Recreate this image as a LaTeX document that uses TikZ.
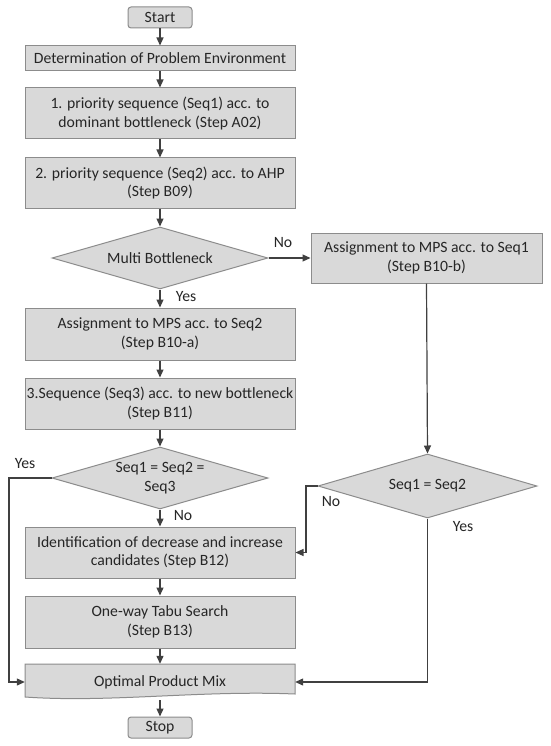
\documentclass[tikz,border=0pt]{standalone}
\usepackage{fontspec}
\setmainfont{Carlito}
\usetikzlibrary{shapes.geometric,arrows.meta,calc}
\definecolor{boxfill}{HTML}{D9D9D9}
\definecolor{boxline}{HTML}{8C8C8C}
\definecolor{linecol}{HTML}{404040}
\definecolor{txt}{HTML}{262626}
\begin{document}
\begin{tikzpicture}[x=1pt,y=-1pt,
  font=\fontsize{15.7}{18.5}\selectfont, text=txt,
  box/.style={draw=boxline, fill=boxfill, line width=1pt, minimum width=270pt, inner sep=0pt, align=center},
  term/.style={box, rounded corners=3pt, minimum width=64pt, minimum height=21pt},
  dec/.style={diamond, draw=boxline, fill=boxfill, line width=1pt, inner sep=0pt, aspect=3.5, align=center},
  arr/.style={draw=linecol, line width=1.2pt, -{Triangle[length=8pt,width=7pt]}},
  lbl/.style={inner sep=0pt}
]
\useasboundingbox[fill=white] (0,0) rectangle (550,746);

\node[term] (start) at (160,17.5) {Start};
\node[box, minimum height=25pt] (det) at (160,58.5) {Determination of Problem Environment};
\node[box, minimum height=51pt] (s1) at (160,113.5) {1. priority sequence (Seq1) acc. to\\dominant bottleneck (Step A02)};
\node[box, minimum height=50pt] (s2) at (160,183) {2. priority sequence (Seq2) acc. to AHP\\(Step B09)};
\node[dec, minimum width=216pt, minimum height=62pt] (mb) at (160,258) {Multi Bottleneck};
\node[box, minimum width=231pt, minimum height=50pt] (b10b) at (426.5,258) {Assignment to MPS acc. to Seq1\\(Step B10-b)};
\node[box, minimum height=52pt] (b10a) at (160,334) {Assignment to MPS acc. to Seq2\\(Step B10-a)};
\node[box, minimum height=51pt] (b11) at (160,403.5) {3.Sequence (Seq3) acc. to new bottleneck\\(Step B11)};
\node[dec, minimum width=216pt, minimum height=62pt] (d3) at (160,478) {Seq1 = Seq2 =\\Seq3};
\node[dec, minimum width=219pt, minimum height=64pt] (d2) at (427.5,486) {Seq1 = Seq2};
\node[box, minimum height=51pt] (b12) at (160,552.5) {Identification of decrease and increase\\candidates (Step B12)};
\node[box, minimum height=52pt] (b13) at (160,622) {One-way Tabu Search\\(Step B13)};
\draw[draw=boxline, fill=boxfill, line width=1pt] (25,664) -- (295,664) -- (295,694) .. controls (200,690) and (110,703) .. (25,697) -- cycle;
\node[inner sep=0pt, minimum width=270pt, minimum height=36pt] (opt) at (160,682) {\raisebox{2pt}{Optimal Product Mix}};
\node[term] (stop) at (160,727.5) {Stop};

\coordinate (nb) at (306,552.5);
\coordinate (yl) at (9,478);

\draw[arr] (start) -- (det);
\draw[arr] (det) -- (s1);
\draw[arr] (s1) -- (s2);
\draw[arr] (s2) -- (mb);
\draw[arr] (mb) -- (b10a);
\draw[arr] (mb.east) -- (b10b.west);
\draw[arr] (b10a) -- (b11);
\draw[arr] (b11) -- (d3);
\draw[arr] (d3) -- (b12);
\draw[arr] (b12) -- (b13);
\draw[arr] (b13) -- (opt.north);
\draw[arr] (opt.south) -- (stop);
\draw[arr] (b10b.south) -- (d2.north);
\draw[arr] (d2.west) -| (nb) -- (b12.east);
\draw[arr] (d2.south) |- (opt.east);
\draw[arr] (d3.west) -- (yl) |- (opt.west);

\node[lbl] (lno1) at (283,243) {No};
\node[lbl] (lyes1) at (186,297) {Yes};
\node[lbl] (lyes2) at (25,464) {Yes};
\node[lbl] (lno2) at (183,516) {No};
\node[lbl] (lno3) at (331,502) {No};
\node[lbl] (lyes3) at (463,527) {Yes};
\end{tikzpicture}
\end{document}
